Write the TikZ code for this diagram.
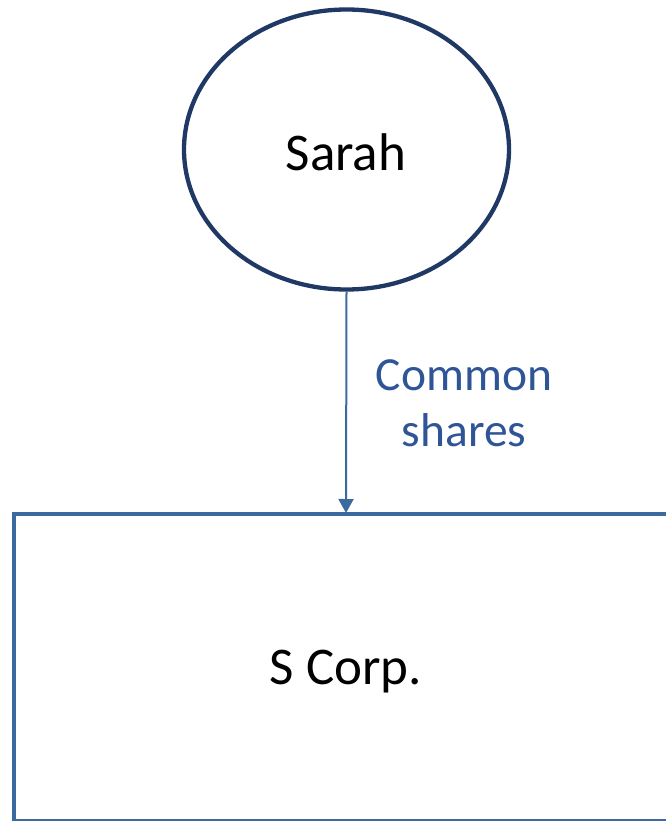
\documentclass[tikz,border=0pt]{standalone}
\usepackage{fontspec}
\setmainfont{Carlito}
\usetikzlibrary{arrows.meta,shapes.geometric}
\definecolor{navy}{HTML}{1F3864}
\definecolor{boxblue}{HTML}{3A6A9E}
\definecolor{labelblue}{HTML}{2F5597}
\tikzset{
  person/.style={draw=navy, line width=4.3pt, ellipse, minimum width=325pt, minimum height=280pt, inner sep=0pt},
  corp/.style={draw=boxblue, line width=4.2pt},
  link/.style={draw=boxblue, line width=2pt, -{Triangle[width=15pt,length=14pt]}},
  bigtext/.style={font=\fontsize{53}{64}\selectfont},
  lbl/.style={font=\fontsize{47.5}{56}\selectfont, text=labelblue, align=center}
}
\begin{document}
\begin{tikzpicture}[x=1pt,y=-1pt]
  \useasboundingbox (0,0) rectangle (665,821);
  % owner
  \node[person] (sarah) at (346.5,149.5) {};
  \node[bigtext] at (346,152) {Sarah};
  % corporation, running off the right edge
  \draw[corp] (14,822) -- (14,514) -- (700,514);
  \draw[corp] (14,821) -- (700,821);
  \coordinate (corptop) at (346,513);
  \node[bigtext] (scorp) at (346,672) {S Corp.};
  % share holding
  \draw[link] (sarah.south) -- (corptop);
  \node[lbl] (shares) at (464,403) {Common\\shares};
\end{tikzpicture}
\end{document}
